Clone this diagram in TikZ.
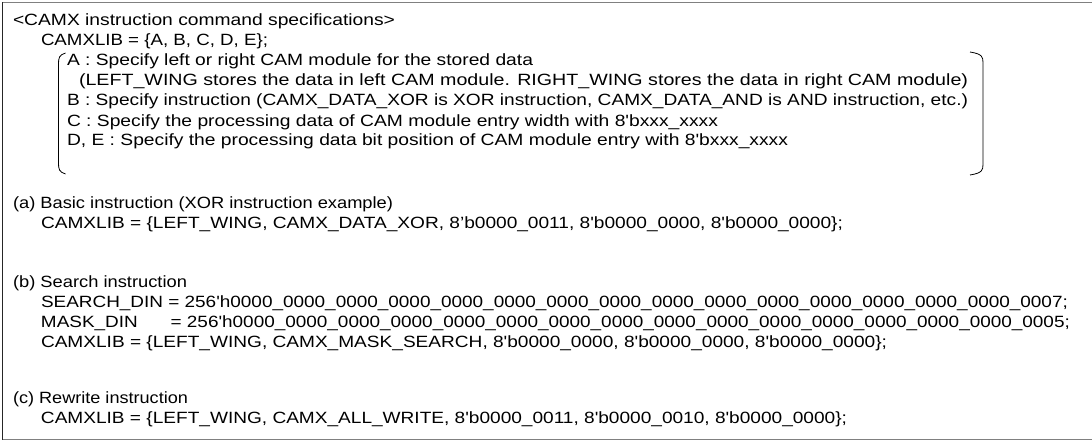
\documentclass[tikz,border=0pt]{standalone}
\usepackage{fontspec}
\usepackage{graphicx}
\usepackage{calc}
\setmainfont{Liberation Sans}
\newcommand\sq{\textquotesingle}
% set a line of text to an exact width, keeping its height
\newcommand\fitline[2]{\resizebox{#1pt}{\height}{#2}}
\tikzset{
  txt/.style={anchor=base west, inner sep=0pt, outer sep=0pt,
    font=\fontsize{16.3}{20}\selectfont},
  frame/.style={line width=1.2pt, draw=black!50},
  brace/.style={line width=0.8pt, draw=black}
}
\begin{document}
\begin{tikzpicture}[x=1pt,y=-1pt]
\useasboundingbox (0,0) rectangle (1092,441);
% outer frame (right side runs off the page)
\draw[frame] (1094,2.5) -- (2.5,2.5) -- (2.5,439.5) -- (1094,439.5);
\draw[line width=1pt, draw=black!85] (2.5,2.5) -- (2.5,439.5);

% header and field list
\node[txt] (hdr) at (13,26) {\fitline{382}{<CAMX instruction command specifications>}};
\node[txt] (lib) at (41,46) {\fitline{227}{CAMXLIB = \{A, B, C, D, E\};}};
\node[txt] (ia) at (67,66) {\fitline{466}{A : Specify left or right CAM module for the stored data}};
\node[txt] (ia2) at (79,86) {\fitline{889}{(LEFT\_WING stores the data in left CAM module. RIGHT\_WING stores the data in right CAM module)}};
\node[txt] (ib) at (67,106) {\fitline{901}{B : Specify instruction (CAMX\_DATA\_XOR is XOR instruction, CAMX\_DATA\_AND is AND instruction, etc.)}};
\node[txt] (ic) at (67,126) {\fitline{651}{C : Specify the processing data of CAM module entry width with 8\sq bxxx\_xxxx}};
\node[txt] (id) at (67,146) {\fitline{721}{D, E : Specify the processing data bit position of CAM module entry with 8\sq bxxx\_xxxx}};

% brackets around the field list
\draw[brace] (65.5,53) .. controls (59,55) and (58.5,58) .. (58.5,64) -- (58.5,163) .. controls (58.5,169) and (59,172) .. (65.5,174);
\draw[brace] (970,52) .. controls (982.5,54) and (983,57) .. (983,63) -- (983,164) .. controls (983,170) and (982.5,173) .. (970,175);

% (a)
\node[txt] (ah) at (13,208) {\fitline{380}{(a) Basic instruction (XOR instruction example)}};
\node[txt] (al) at (41,228) {\fitline{802}{CAMXLIB = \{LEFT\_WING, CAMX\_DATA\_XOR, 8’b0000\_0011, 8\sq b0000\_0000, 8\sq b0000\_0000\};}};

% (b)
\node[txt] (bh) at (13,287) {\fitline{174}{(b) Search instruction}};
\node[txt] (bs) at (41,307) {\fitline{1027}{SEARCH\_DIN = 256\sq h0000\_0000\_0000\_0000\_0000\_0000\_0000\_0000\_0000\_0000\_0000\_0000\_0000\_0000\_0000\_0007;}};
\node[txt] (bm) at (41,327) {\fitline{1029}{\makebox[\widthof{SEARCH\_DIN}][l]{MASK\_DIN}\kern2pt{} = 256\sq h0000\_0000\_0000\_0000\_0000\_0000\_0000\_0000\_0000\_0000\_0000\_0000\_0000\_0000\_0000\_0005;}};
\node[txt] (bl) at (41,347) {\fitline{846}{CAMXLIB = \{LEFT\_WING, CAMX\_MASK\_SEARCH, 8\sq b0000\_0000, 8\sq b0000\_0000, 8\sq b0000\_0000\};}};

% (c)
\node[txt] (ch) at (13,403) {\fitline{175}{(c) Rewrite instruction}};
\node[txt] (cl) at (41,423) {\fitline{806}{CAMXLIB = \{LEFT\_WING, CAMX\_ALL\_WRITE, 8\sq b0000\_0011, 8\sq b0000\_0010, 8\sq b0000\_0000\};}};
\end{tikzpicture}
\end{document}
